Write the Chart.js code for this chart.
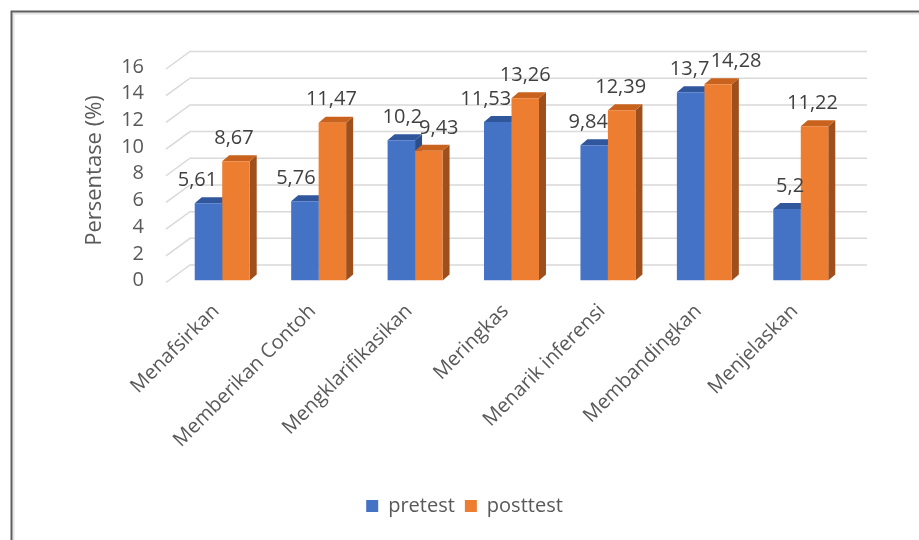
<!DOCTYPE html>
<html>
<head>
<meta charset="utf-8">
<script src="https://cdn.jsdelivr.net/npm/chart.js@4"></script>
<style>html,body{margin:0;padding:0;background:#fff}</style>
</head>
<body>
<canvas id="c" width="919" height="540"></canvas>
<script>
const categories = ['Menafsirkan', 'Memberikan Contoh', 'Mengklarifikasikan', 'Meringkas', 'Menarik inferensi', 'Membandingkan', 'Menjelaskan'];
const pretest = [5.61, 5.76, 10.2, 11.53, 9.84, 13.7, 5.2];
const posttest = [8.67, 11.47, 9.43, 13.26, 12.39, 14.28, 11.22];
const yTicks = [0, 2, 4, 6, 8, 10, 12, 14, 16];

// horizontal nudges of the value labels (Excel places them a bit unevenly)
const labelShift = [
  [-11, -9, 1, -12, -6, -1, 3],
  [-2, -1, 10, 0, -1, 18, -2]
];

const FONT = '"Open Sans", Lato, sans-serif';
const TEXT = '#595959';
const fronts = ['#4472C4', '#ED7D31'];
const tops = ['#30569b', '#c9621c'];
const sides = ['#2b4d8a', '#9e4f1c'];
const BAR_D = { dx: 7, dy: 6 };
const WALL_D = { dx: 24, dy: 17.5 };

const frame = {
  id: 'frame',
  beforeDraw(chart) {
    const c = chart.ctx;
    c.save();
    c.fillStyle = '#fff';
    c.fillRect(0, 0, chart.width, chart.height);
    c.lineWidth = 2;
    c.strokeStyle = '#e4e4e4';
    c.beginPath(); c.moveTo(13.5, chart.height); c.lineTo(13.5, 13.5); c.lineTo(chart.width, 13.5); c.stroke();
    c.strokeStyle = '#5f5f5f';
    c.beginPath(); c.moveTo(11.5, chart.height); c.lineTo(11.5, 11.5); c.lineTo(chart.width, 11.5); c.stroke();
    c.restore();
  }
};

const depth = {
  id: 'depth',
  beforeDatasetsDraw(chart) {
    const { ctx, chartArea: a } = chart;
    const yl = chart.scales.yl;
    ctx.save();
    // back wall gridlines
    ctx.strokeStyle = '#d9d9d9';
    ctx.lineWidth = 1.5;
    yTicks.forEach(v => {
      const y = yl.getPixelForValue(v) + 2;
      ctx.beginPath();
      ctx.moveTo(a.left - 8, y);
      ctx.lineTo(a.left - 8 + WALL_D.dx, y - WALL_D.dy);
      ctx.lineTo(a.right + 18, y - WALL_D.dy);
      ctx.stroke();
    });
    // bar sides and tops
    [0, 1].forEach(i => {
      chart.getDatasetMeta(i).data.forEach(bar => {
        const x0 = bar.x - bar.width / 2, x1 = bar.x + bar.width / 2;
        const { dx, dy } = BAR_D;
        ctx.fillStyle = sides[i];
        ctx.beginPath();
        ctx.moveTo(x1, bar.y); ctx.lineTo(x1 + dx, bar.y - dy);
        ctx.lineTo(x1 + dx, bar.base - dy); ctx.lineTo(x1, bar.base);
        ctx.closePath(); ctx.fill();
        ctx.fillStyle = tops[i];
        ctx.beginPath();
        ctx.moveTo(x0, bar.y); ctx.lineTo(x0 + dx, bar.y - dy);
        ctx.lineTo(x1 + dx, bar.y - dy); ctx.lineTo(x1, bar.y);
        ctx.closePath(); ctx.fill();
      });
    });
    ctx.restore();
  },
  afterDatasetsDraw(chart) {
    const ctx = chart.ctx;
    ctx.save();
    ctx.font = '20px ' + FONT;
    ctx.fillStyle = '#404040';
    ctx.textAlign = 'center';
    ctx.textBaseline = 'middle';
    [0, 1].forEach(i => {
      const ds = chart.data.datasets[i];
      chart.getDatasetMeta(i).data.forEach((bar, j) => {
        const txt = String(ds.data[j]).replace('.', ',');
        ctx.fillText(txt, bar.x + labelShift[i][j], bar.y - 23);
      });
    });
    ctx.restore();
  }
};

new Chart(document.getElementById('c'), {
  type: 'bar',
  data: {
    labels: categories,
    datasets: [
      { label: 'pretest', data: pretest, backgroundColor: fronts[0], yAxisID: 'y' },
      { label: 'posttest', data: posttest, backgroundColor: fronts[1], yAxisID: 'y' }
    ]
  },
  options: {
    responsive: false,
    animation: false,
    categoryPercentage: 0.57,
    barPercentage: 1,
    layout: { padding: { left: 80, right: 70, top: 60.5, bottom: 14 } },
    plugins: {
      legend: {
        position: 'bottom',
        labels: { color: TEXT, font: { family: FONT, size: 20 }, boxWidth: 12, boxHeight: 12, padding: 10 }
      },
      tooltip: { enabled: false }
    },
    scales: {
      x: {
        grid: { display: false, drawTicks: false },
        border: { display: false },
        ticks: { autoSkip: false, minRotation: 45, maxRotation: 45, padding: 19, labelOffset: -6, color: TEXT, font: { family: FONT, size: 20 } },
        afterFit(s) { s.height = 205.5; }
      },
      y: { display: false, min: 0, max: 16 },
      yl: {
        position: 'left',
        min: 0,
        max: 16 * 220 / 213.5,
        afterBuildTicks(s) { s.ticks = yTicks.map(v => ({ value: v })); },
        grid: { display: false, drawTicks: false },
        border: { display: false },
        ticks: { padding: 30, color: TEXT, font: { family: FONT, size: 20 } },
        title: { display: true, text: 'Persentase (%)', color: TEXT, font: { family: FONT, size: 22 }, padding: { top: 2, bottom: 0 } },
        afterFit(s) { s.width = 94; }
      }
    }
  },
  plugins: [frame, depth]
});
</script>
</body>
</html>
